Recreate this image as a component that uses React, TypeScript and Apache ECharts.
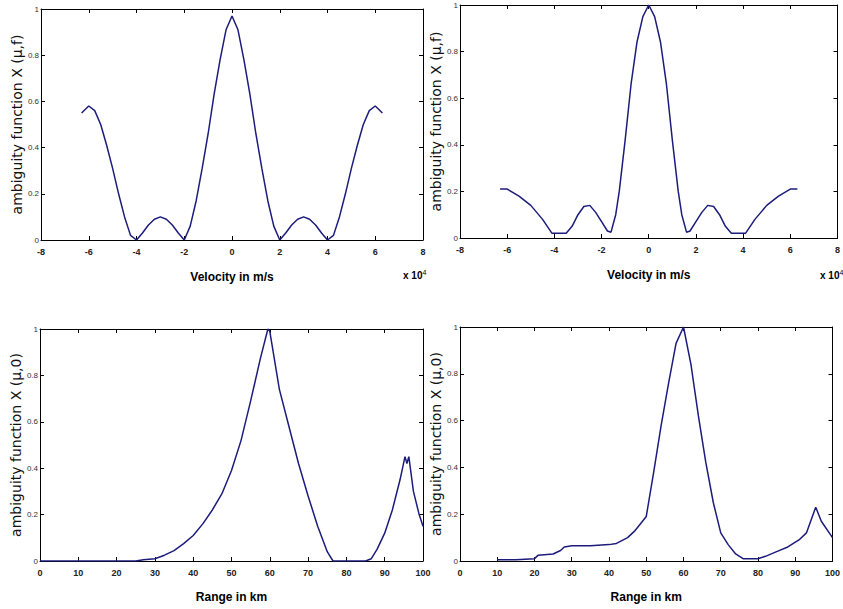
import React, { useEffect, useRef } from "react";
import * as echarts from "echarts";

// Top-left: ambiguity vs velocity (x 10^4 m/s)
const velTL_x = [-6.3, -6, -5.75, -5.5, -5.25, -5, -4.75, -4.5, -4.25, -4, -3.75, -3.5, -3.25, -3, -2.75, -2.5, -2.25, -2, -1.75, -1.5, -1.25, -1, -0.75, -0.5, -0.25, 0,
  0.25, 0.5, 0.75, 1, 1.25, 1.5, 1.75, 2, 2.25, 2.5, 2.75, 3, 3.25, 3.5, 3.75, 4, 4.25, 4.5, 4.75, 5, 5.25, 5.5, 5.75, 6, 6.3];
const velTL_y = [0.55, 0.58, 0.56, 0.5, 0.41, 0.31, 0.2, 0.1, 0.02, 0, 0.03, 0.065, 0.09, 0.1, 0.09, 0.065, 0.03, 0, 0.06, 0.17, 0.31, 0.46, 0.63, 0.78, 0.91, 0.97,
  0.91, 0.78, 0.63, 0.46, 0.31, 0.17, 0.06, 0, 0.03, 0.065, 0.09, 0.1, 0.09, 0.065, 0.03, 0, 0.02, 0.1, 0.2, 0.31, 0.41, 0.5, 0.56, 0.58, 0.55];

// Top-right
const velTR_x = [-6.3, -6, -5.5, -5, -4.5, -4.1, -3.5, -3.25, -3, -2.75, -2.5, -2.25, -2, -1.75, -1.6, -1.4, -1.25, -1, -0.75, -0.5, -0.25, 0,
  0.25, 0.5, 0.75, 1, 1.25, 1.4, 1.6, 1.75, 2, 2.25, 2.5, 2.75, 3, 3.25, 3.5, 4.1, 4.5, 5, 5.5, 6, 6.3];
const velTR_y = [0.21, 0.21, 0.18, 0.14, 0.08, 0.02, 0.02, 0.05, 0.1, 0.135, 0.14, 0.11, 0.07, 0.03, 0.025, 0.1, 0.2, 0.42, 0.66, 0.84, 0.95, 1.0,
  0.95, 0.84, 0.66, 0.42, 0.2, 0.1, 0.025, 0.03, 0.07, 0.11, 0.14, 0.135, 0.1, 0.05, 0.02, 0.02, 0.08, 0.14, 0.18, 0.21, 0.21];

// Bottom-left: ambiguity vs range (km)
const rngBL_x = [0, 5, 10, 15, 20, 25, 27, 30, 32.5, 35, 37.5, 40, 42.5, 45, 47.5, 50, 52.5, 55, 57.5, 59.5, 60, 62.5, 65, 67.5, 70, 72.5, 75, 76.5, 80, 85, 86.5, 88, 90, 92, 94, 95.3, 95.8, 96.3, 97.5, 99, 100];
const rngBL_y = [0, 0, 0, 0, 0, 0, 0.005, 0.01, 0.025, 0.045, 0.075, 0.11, 0.16, 0.22, 0.29, 0.39, 0.52, 0.69, 0.87, 1.0, 0.99, 0.74, 0.58, 0.42, 0.28, 0.15, 0.04, 0, 0, 0, 0.01, 0.05, 0.12, 0.22, 0.35, 0.45, 0.42, 0.45, 0.3, 0.2, 0.15];

// Bottom-right
const rngBR_x = [10, 15, 20, 21, 25, 27, 28, 30, 35, 40, 42, 45, 47, 49, 50, 52, 54, 56, 58, 60, 62, 64, 66, 68, 70, 72, 74, 76, 80, 82, 85, 88, 91, 93, 95.5, 97, 100];
const rngBR_y = [0.005, 0.005, 0.01, 0.025, 0.03, 0.045, 0.06, 0.065, 0.065, 0.07, 0.075, 0.1, 0.13, 0.17, 0.19, 0.38, 0.58, 0.76, 0.93, 1.0, 0.84, 0.62, 0.42, 0.25, 0.12, 0.07, 0.03, 0.01, 0.01, 0.02, 0.04, 0.06, 0.09, 0.12, 0.23, 0.17, 0.1];

const velTicks = [-8, -6, -4, -2, 0, 2, 4, 6, 8];
const rangeTicks = [0, 10, 20, 30, 40, 50, 60, 70, 80, 90, 100];
const ampTicks = [0, 0.2, 0.4, 0.6, 0.8, 1];

const velName = "Velocity in m/s";
const rangeName = "Range in km";
const ambNameTop = "ambiguity function X (μ,f)";
const ambNameBottom = "ambiguity function X (μ,0)";

const LINE = "#1c1c7c";
const NARROW = "'Liberation Sans Narrow', 'Liberation Sans', sans-serif";

function pairs(xs: number[], ys: number[]) {
  return xs.map((x, i) => [x, ys[i]]);
}

export default function App() {
  const ref = useRef<HTMLDivElement>(null);
  useEffect(() => {
    if (!ref.current) return;
    const chart = echarts.init(ref.current, undefined, { renderer: "svg" });

    const grids = [
      { left: 41, top: 9, width: 382, height: 231 },
      { left: 460, top: 5, width: 383, height: 233 },
      { left: 40, top: 329, width: 383, height: 232 },
      { left: 460, top: 327, width: 383, height: 234 },
    ];
    const yNameGaps = [4, 1, 4, 1];

    const xAxes: any[] = [];
    const yAxes: any[] = [];
    grids.forEach((g, i) => {
      const isVel = i < 2;
      const ticks = isVel ? velTicks : rangeTicks;
      const base = {
        type: "value",
        gridIndex: i,
        min: ticks[0],
        max: ticks[ticks.length - 1],
        interval: ticks[1] - ticks[0],
        splitLine: { show: false },
        axisLine: { show: true, onZero: false, lineStyle: { color: "#000", width: 1 } },
        axisTick: { show: true, inside: true, length: 4, lineStyle: { color: "#000" } },
      };
      xAxes.push({
        ...base,
        position: "bottom",
        name: isVel ? velName : rangeName,
        nameLocation: "middle",
        nameGap: isVel ? 31 : 30,
        nameTextStyle: { fontFamily: NARROW, fontSize: 12, fontWeight: "bold", color: "#000" },
        axisLabel: { show: true, margin: 7, fontFamily: NARROW, fontSize: 9, fontWeight: "bold", color: "#222", showMinLabel: true, showMaxLabel: true },
      });
      xAxes.push({ ...base, position: "top", axisLabel: { show: false } });
      const ybase = {
        type: "value",
        gridIndex: i,
        min: ampTicks[0],
        max: ampTicks[ampTicks.length - 1],
        interval: ampTicks[1] - ampTicks[0],
        splitLine: { show: false },
        axisLine: { show: true, onZero: false, lineStyle: { color: "#000", width: 1 } },
        axisTick: { show: true, inside: true, length: 4, lineStyle: { color: "#000" } },
      };
      yAxes.push({
        ...ybase,
        position: "left",
        name: isVel ? ambNameTop : ambNameBottom,
        nameLocation: "middle",
        nameRotate: 90,
        nameGap: yNameGaps[i],
        nameTextStyle: { fontFamily: "'DejaVu Sans', sans-serif", fontSize: 14, color: "#111" },
        axisLabel: { show: true, margin: 2, fontFamily: NARROW, fontSize: 8, color: "#333" },
      });
      yAxes.push({ ...ybase, position: "right", axisLabel: { show: false } });
    });

    const datasets = [
      pairs(velTL_x, velTL_y),
      pairs(velTR_x, velTR_y),
      pairs(rngBL_x, rngBL_y),
      pairs(rngBR_x, rngBR_y),
    ];

    const series = datasets.map((d, i) => ({
      type: "line",
      xAxisIndex: i * 2,
      yAxisIndex: i * 2,
      data: d,
      showSymbol: false,
      smooth: false,
      lineStyle: { color: LINE, width: 1.5 },
    }));

    const expText = (left: number) => ({
      type: "text",
      left,
      top: 269,
      style: {
        text: "x 10{s|4}",
        rich: { s: { fontSize: 7, verticalAlign: "top", padding: [0, 0, 6, 0], fontFamily: NARROW } },
        fontFamily: NARROW,
        fontSize: 10,
        fontWeight: "bold",
        fill: "#000",
      },
    });

    chart.setOption({
      animation: false,
      backgroundColor: "#fff",
      grid: grids,
      xAxis: xAxes,
      yAxis: yAxes,
      series,
      graphic: [expText(403), expText(820)],
    });
    return () => chart.dispose();
  }, []);
  return (
    <div
      ref={ref}
      style={{ position: "absolute", left: 0, top: 0, width: 843, height: 609, background: "#fff" }}
    />
  );
}
